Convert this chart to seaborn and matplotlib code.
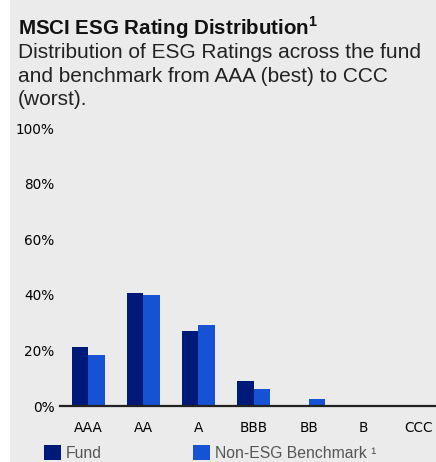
import matplotlib
matplotlib.use("Agg")
import matplotlib.pyplot as plt
import seaborn as sns
import pandas as pd
from matplotlib.patches import Rectangle

plt.rcParams["mathtext.fontset"] = "custom"
plt.rcParams["mathtext.rm"] = "Liberation Sans"
plt.rcParams["mathtext.bf"] = "Liberation Sans:bold"

categories = ["AAA", "AA", "A", "BBB", "BB", "B", "CCC"]
fund = [21.2, 40.6, 27.0, 9.0, 0.0, 0.0, 0.0]
benchmark = [18.3, 39.9, 29.1, 6.1, 2.5, 0.0, 0.0]
series_names = ["Fund", "Non-ESG Benchmark \u00b9"]
y_ticks = [0, 20, 40, 60, 80, 100]
y_tick_labels = ["0%", "20%", "40%", "60%", "80%", "100%"]
colors = ["#001a7a", "#1652d4"]

df = pd.DataFrame({
    "Rating": categories * 2,
    "Value": fund + benchmark,
    "Series": [series_names[0]] * len(categories) + [series_names[1]] * len(categories),
})

W, H = 436, 462
fig = plt.figure(figsize=(W / 100, H / 100), dpi=100, facecolor="white")
fig.patches.append(Rectangle((10 / W, 0), 1 - 10 / W, 1, transform=fig.transFigure,
                             facecolor="#ebebeb", edgecolor="none", zorder=-10))

ax = fig.add_axes([60 / W, (H - 406) / H, 1 - 60 / W, (406 - 128) / H])
ax.set_facecolor("none")
sns.barplot(data=df, x="Rating", y="Value", hue="Series", order=categories,
            hue_order=series_names, palette=colors,
            width=0.6, gap=0, ax=ax, legend=False, saturation=1)
ax.set_xlim(-0.51, 6.31)
ax.set_ylim(0, 100)
ax.set_yticks(y_ticks)
ax.set_yticklabels(y_tick_labels, fontsize=9.8, color="#000000",
                   family="DejaVu Sans")
for lbl in ax.get_xticklabels():
    lbl.set_fontsize(9.8)
    lbl.set_color("#000000")
    lbl.set_family("DejaVu Sans")
ax.tick_params(axis="both", length=0)
ax.tick_params(axis="y", pad=4)
ax.tick_params(axis="x", pad=11)
for s in ax.spines.values():
    s.set_visible(False)
ax.axhline(0, color="#222222", lw=1.6, zorder=5, clip_on=False)
ax.set_xlabel("")
ax.set_ylabel("")

# Legend
handles = [Rectangle((0, 0), 1, 1, facecolor=c, edgecolor="none") for c in colors]
leg = fig.legend(handles, series_names, loc="lower left", bbox_to_anchor=(44 / W, 1 / H),
                 ncol=2, frameon=False, handlelength=1.08, handleheight=1.08,
                 handletextpad=0.28, columnspacing=5.85, borderpad=0, borderaxespad=0,
                 prop={"family": "Liberation Sans", "size": 11.3})
for t in leg.get_texts():
    t.set_color("#555555")

# Title and subtitle
fig.text(18 / W, 1 - 35 / H, r"MSCI ESG Rating Distribution$^{\mathbf{1}}$", fontsize=14.8,
         fontweight="bold", family="Liberation Sans", color="#111111", va="baseline")
sub = ["Distribution of ESG Ratings across the fund",
       "and benchmark from AAA (best) to CCC",
       "(worst)."]
for i, line in enumerate(sub):
    fig.text(18 / W, 1 - (58 + 23.5 * i) / H, line, fontsize=15,
             family="Liberation Sans", color="#222222", va="baseline")

fig.savefig("out.png", dpi=100, facecolor=fig.get_facecolor())
